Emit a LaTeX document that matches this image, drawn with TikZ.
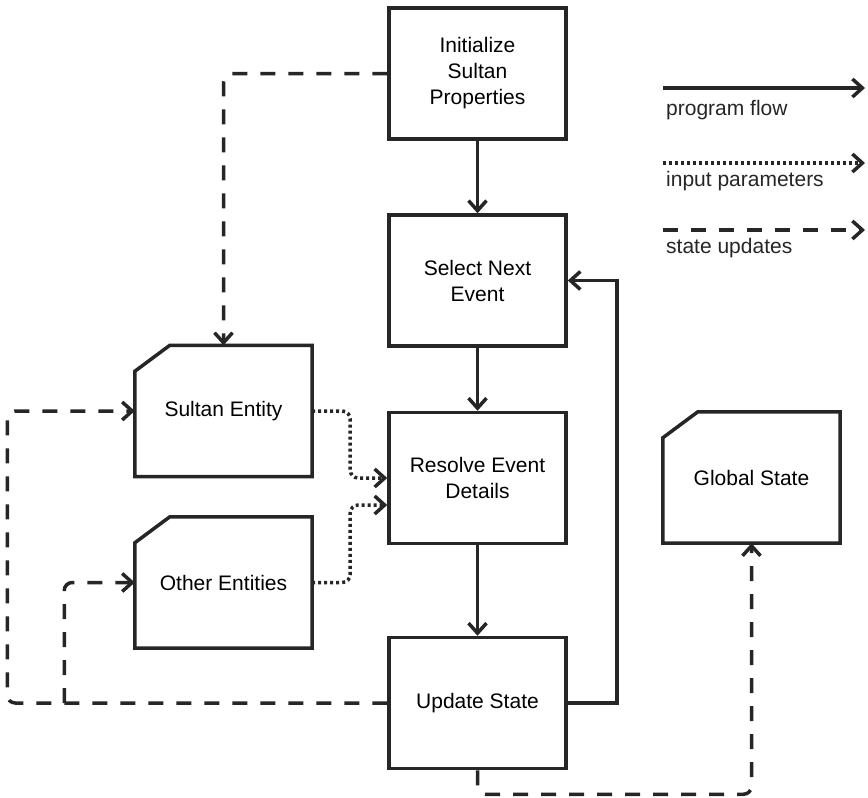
\documentclass[tikz,border=0pt]{standalone}
\usepackage{fontspec}
\setmainfont{Liberation Sans}
\usetikzlibrary{arrows.meta,positioning}

\begin{document}
\begin{tikzpicture}[
        x=1pt, y=-1pt,
        font=\fontsize{21}{26}\selectfont,
        stage/.style={rectangle, draw=black!85, line width=3.5pt, minimum width=177pt,
                      minimum height=131pt, align=center, inner sep=0pt},
        store/.style={rectangle, minimum width=177pt, minimum height=131pt,
                      align=center, inner sep=0pt},
        label/.style={anchor=west, inner sep=0pt, text=black!85},
        flowarrow/.style={-{Straight Barb[length=10pt,width=18pt]}, line width=3.5pt, draw=black!85},
        paramarrow/.style={flowarrow, dash pattern=on 3pt off 3pt},
        statearrow/.style={flowarrow, dash pattern=on 15pt off 13pt}
    ]
        \useasboundingbox (0,0) rectangle (868,798);

        % main program column
        \node[stage] (init) at (477.5,73.5) {Initialize\\Sultan\\Properties};
        \node[stage] (select) at (477.5,280.5) {Select Next\\Event};
        \node[stage] (resolve) at (477.5,478) {Resolve Event\\Details};
        \node[stage] (update) at (477.5,703) {Update State};

        % data stores with a cut corner
        \node[store] (sultan) at (223.5,411) {Sultan Entity};
        \node[store] (other) at (223.5,582.5) {Other Entities};
        \node[store] (global) at (751.5,477.5) {Global State};
        \foreach \n in {sultan, other, global}
            \draw[line width=3.5pt, draw=black!85, line join=miter]
                ([xshift=35pt]\n.north west) -- (\n.north east) -- (\n.south east)
                -- (\n.south west) -- ([yshift=-26pt]\n.north west) -- cycle;

        % legend
        \coordinate (flowa) at (663,88);
        \coordinate (flowb) at (865,88);
        \coordinate (parama) at (663,163);
        \coordinate (paramb) at (865,163);
        \coordinate (statea) at (663,230);
        \coordinate (stateb) at (865,230);
        \node[label] (flowtxt) at (666,110) {program flow};
        \node[label] (paramtxt) at (666,181) {input parameters};
        \node[label] (statetxt) at (666,248) {state updates};
        \draw[flowarrow] (flowa) -- (flowb);
        \draw[paramarrow] (parama) -- (paramb);
        \draw[statearrow] (statea) -- (stateb);

        % program flow
        \draw[flowarrow] (init) -- (select);
        \draw[flowarrow] (select) -- (resolve);
        \draw[flowarrow] (resolve) -- (update);
        \draw[flowarrow] (update.east) -- ++(49,0) |- (select.east);

        % input parameters
        \draw[paramarrow, rounded corners=8pt] (sultan.east) -- ++(38,0) |- (resolve.west);
        \draw[paramarrow, rounded corners=8pt] (other.east) -- ++(38,0) |- ([yshift=-27pt]resolve.west);

        % state updates
        \draw[statearrow, rounded corners=8pt] (init.west) -| (sultan.north);
        \draw[statearrow, rounded corners=8pt] (update.west) -- ([xshift=-380pt]update.west) |- (sultan.west);
        \draw[statearrow, rounded corners=8pt] ([xshift=-323pt]update.west) |- (other.west);
        \draw[statearrow, rounded corners=8pt] (update.south) -- ++(0,24) -| (global.south);
    \end{tikzpicture}
\end{document}
